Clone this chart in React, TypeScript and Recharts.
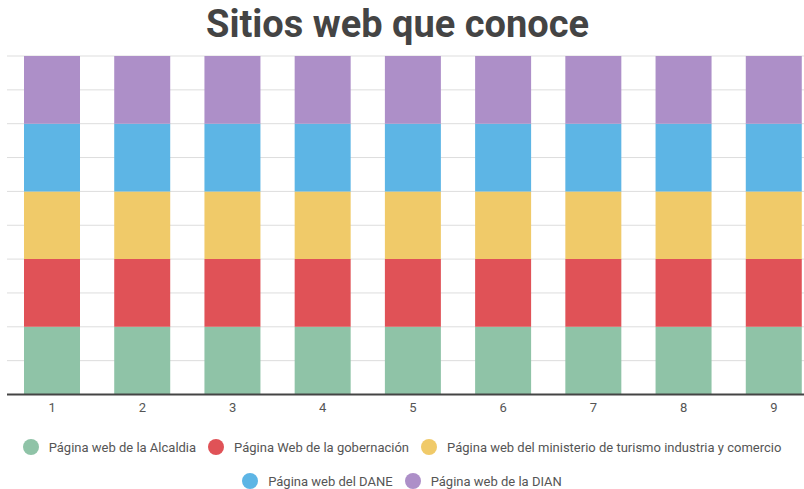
import { BarChart, Bar, XAxis, YAxis, CartesianGrid } from 'recharts';

const categories = ['1', '2', '3', '4', '5', '6', '7', '8', '9'];

const alcaldia = [1, 1, 1, 1, 1, 1, 1, 1, 1];
const gobernacion = [1, 1, 1, 1, 1, 1, 1, 1, 1];
const ministerio = [1, 1, 1, 1, 1, 1, 1, 1, 1];
const dane = [1, 1, 1, 1, 1, 1, 1, 1, 1];
const dian = [1, 1, 1, 1, 1, 1, 1, 1, 1];

const yTicks = [0, 0.5, 1, 1.5, 2, 2.5, 3, 3.5, 4, 4.5, 5];

const series = [
    { key: 'alcaldia', name: 'Página web de la Alcaldia', color: '#8fc3a7', values: alcaldia },
    { key: 'gobernacion', name: 'Página Web de la gobernación', color: '#e05257', values: gobernacion },
    { key: 'ministerio', name: 'Página web del ministerio de turismo industria y comercio', color: '#f0ca69', values: ministerio },
    { key: 'dane', name: 'Página web del DANE', color: '#5db5e5', values: dane },
    { key: 'dian', name: 'Página web de la DIAN', color: '#ad8fc8', values: dian },
];

const data = categories.map((name, i) => {
    const row: Record<string, string | number> = { name };
    series.forEach(s => { row[s.key] = s.values[i]; });
    return row;
});

const font = 'Roboto, "Noto Sans", sans-serif';

const LegendItem = ({ name, color }: { name: string, color: string }) => (
    <div style={{ display: 'flex', alignItems: 'center', margin: '0 6px' }}>
        <span style={{ width: 16, height: 16, borderRadius: '50%', background: color, marginRight: 10, display: 'inline-block' }} />
        <span>{name}</span>
    </div>
);

const App = () => {
    const rows = [series.slice(0, 3), series.slice(3)];
    return (
        <div style={{ position: 'absolute', left: 0, top: 0, width: 804, height: 489, overflow: 'hidden', background: '#fff', fontFamily: font }}>
            <div style={{ position: 'absolute', left: 0, top: 5, width: 795, textAlign: 'center', fontSize: 38, lineHeight: '38px', fontWeight: 700, color: '#444' }}>
                Sitios web que conoce
            </div>
            <div style={{ position: 'absolute', left: 0, top: 0 }}>
                <BarChart width={830} height={489} data={data} margin={{ top: 56, right: 11, left: 7, bottom: 64.5 }}>
                    <CartesianGrid vertical={false} stroke="#dddddd" />
                    <XAxis dataKey="name" height={30} tickLine={false} axisLine={{ stroke: '#444', strokeWidth: 2 }}
                        tick={{ fill: '#555', fontSize: 13, fontFamily: font }} />
                    <YAxis hide domain={[0, 5]} ticks={yTicks} />
                    {series.map(s => (
                        <Bar key={s.key} dataKey={s.key} name={s.name} stackId="a" fill={s.color} barSize={56} isAnimationActive={false} />
                    ))}
                </BarChart>
            </div>
            {rows.map((row, r) => (
                <div key={r} style={{ position: 'absolute', left: 0, width: 804, top: r === 0 ? 438 : 472, height: 18, display: 'flex', justifyContent: 'center', fontSize: 13, color: '#555' }}>
                    {row.map(s => <LegendItem key={s.key} name={s.name} color={s.color} />)}
                </div>
            ))}
        </div>
    );
};

export default App;
